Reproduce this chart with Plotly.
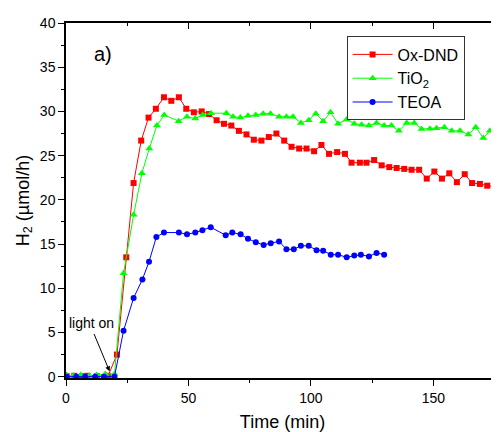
import plotly.graph_objects as go

# Ox-DND (red squares)
ox_x = [0.3, 3.4, 6.5, 8.8, 12.6, 17.2, 20.8, 24.6, 27.6, 30.7, 33.7, 36.7, 40.0, 43.0,
        46.1, 49.1, 52.2, 55.4, 58.4, 61.5, 64.5, 67.5, 70.6, 73.7, 76.7, 79.8, 82.8,
        85.9, 89.1, 92.1, 95.2, 98.2, 101.3, 104.3, 107.4, 110.7, 113.9, 116.6, 120.0,
        122.7, 125.8, 128.9, 132.0, 135.0, 138.1, 141.1, 144.2, 147.3, 150.4, 153.5,
        156.5, 159.6, 162.8, 165.8, 169.0, 172.0, 175.2]
ox_y = [0.05, 0.1, 0.05, 0.1, 0.05, 0.1, 2.5, 13.5, 21.9, 26.7, 29.3, 30.3, 31.6, 31.2,
        31.6, 30.3, 29.9, 30.0, 29.7, 29.0, 28.6, 28.4, 27.8, 27.4, 26.8, 26.7, 27.1,
        27.5, 26.7, 26.0, 25.8, 25.8, 25.5, 26.2, 25.2, 25.4, 25.2, 24.2, 24.2,
        24.2, 24.5, 23.9, 23.7, 23.6, 23.5, 23.4, 23.4, 22.4, 23.2, 22.4,
        23.0, 22.0, 22.9, 21.9, 21.8, 21.6, 21.5]

# TiO2 (green triangles)
ti_x = [0.2, 3.0, 6.0, 9.5, 12.5, 16.0, 19.8, 23.5, 27.6, 31.0, 34.0, 37.1, 40.1, 46.0,
        49.4, 52.8, 55.8, 59.2, 65.5, 68.2, 71.2, 74.3, 77.5, 80.5, 83.5, 87.0, 90.0,
        92.7, 95.9, 99.1, 102.0, 105.0, 108.0, 111.1, 114.6, 117.7, 120.7, 123.7,
        126.8, 129.9, 132.9, 135.9, 139.1, 142.2, 145.2, 148.6, 151.3, 154.5, 157.5,
        160.9, 164.3, 167.3, 170.4, 173.1, 176.3]
ti_y = [0.2, 0.1, 0.2, 0.1, 0.2, 0.3, 0.3, 11.7, 18.3, 23.0, 25.8, 28.4, 29.6, 28.9,
        29.4, 29.2, 29.6, 29.8, 29.8, 29.4, 29.3, 29.5, 29.6, 29.75, 29.75, 29.4, 29.4,
        29.4, 28.7, 29.0, 29.75, 28.9, 29.9, 28.6, 29.1, 28.6, 28.5, 28.4,
        28.7, 28.4, 28.4, 27.8, 28.7, 28.7, 28.0, 28.05, 28.1, 28.2, 27.8,
        27.8, 27.4, 28.2, 27.0, 27.8, 27.6]

# TEOA (blue circles)
te_x = [0.3, 4.2, 7.8, 11.9, 15.5, 19.8, 23.5, 27.6, 31.2, 33.9, 36.9, 40.0, 46.1, 49.4,
        52.8, 55.7, 59.1, 65.2, 67.9, 71.3, 74.3, 77.5, 80.7, 83.6, 87.0, 90.0, 93.0,
        95.9, 99.1, 102.3, 105.0, 108.1, 111.1, 114.6, 117.7, 120.4, 123.7, 126.8, 129.9]
te_y = [0.0, 0.0, 0.0, 0.0, 0.0, 0.0, 5.2, 8.9, 11.0, 13.0, 15.8, 16.3, 16.3, 16.1,
        16.3, 16.55, 16.9, 16.0, 16.3, 16.1, 15.6, 15.2, 14.9, 15.1, 15.3, 14.4, 14.4,
        14.8, 14.8, 14.3, 14.25, 13.8, 13.8, 13.5, 13.7, 13.8, 13.6, 14.0, 13.8]

FONT = "Liberation Sans, Arial, sans-serif"

fig = go.Figure()
fig.add_trace(go.Scatter(x=ox_x, y=ox_y, mode="lines+markers", name="Ox-DND",
                         line=dict(color="#ff0000", width=1),
                         marker=dict(symbol="square", size=6, color="#ff0000")))
fig.add_trace(go.Scatter(x=ti_x, y=ti_y, mode="lines+markers", name="TiO<sub>2</sub>",
                         line=dict(color="#00ff00", width=1),
                         marker=dict(symbol="triangle-up", size=7, color="#00ff00")))
fig.add_trace(go.Scatter(x=te_x, y=te_y, mode="lines+markers", name="TEOA",
                         line=dict(color="#0000ff", width=1),
                         marker=dict(symbol="circle", size=6, color="#0000ff")))
# dummy trace so the top axis gets drawn
fig.add_trace(go.Scatter(x=[0], y=[0], xaxis="x2", mode="markers",
                         marker=dict(opacity=0), showlegend=False, hoverinfo="skip"))

# page body has an 8px margin, so the figure is sized to end at the window edge
xr = [0, 176.8]
fig.update_layout(
    width=491, height=424,
    margin=dict(l=58, r=0, t=15, b=54),
    paper_bgcolor="white", plot_bgcolor="white",
    font=dict(family=FONT, size=14, color="black"),
    showlegend=True,
    legend=dict(x=0.648, y=0.962, xanchor="left", yanchor="top",
                bordercolor="#333333", borderwidth=1, bgcolor="white",
                font=dict(size=16), itemwidth=40, tracegroupgap=0),
    xaxis=dict(range=xr, showgrid=False, zeroline=False, showline=True,
               linecolor="black", linewidth=1.5, ticks="outside", ticklen=6,
               tickwidth=1, tickcolor="black", dtick=50, tick0=0, automargin=False,
               minor=dict(ticks="outside", ticklen=3, dtick=25, tickcolor="black"),
               title=dict(text="Time (min)", font=dict(size=18), standoff=16)),
    xaxis2=dict(range=xr, overlaying="x", side="top", showgrid=False, zeroline=False,
                showline=True, linecolor="black", linewidth=1.5, ticks="inside",
                ticklen=6, tickcolor="black", dtick=50, tick0=0, showticklabels=False,
                minor=dict(ticks="inside", ticklen=3, dtick=25, tickcolor="black")),
    yaxis=dict(range=[-0.15, 40], showgrid=False, zeroline=False, showline=True,
               linecolor="black", linewidth=1.5, ticks="outside", ticklen=6,
               tickwidth=1, tickcolor="black", dtick=5, tick0=0, automargin=False,
               minor=dict(ticks="outside", ticklen=3, dtick=2.5, tickcolor="black"),
               title=dict(text="H<sub>2</sub> (\u00b5mol/h)", font=dict(size=18), standoff=6)),
)

fig.add_annotation(x=15.3, y=36.5, text="a)", showarrow=False,
                   font=dict(size=20, color="black"))
fig.add_annotation(x=10.4, y=6.1, text="light on", showarrow=False,
                   font=dict(size=14, color="black"))
fig.add_annotation(x=17.8, y=0.6, ax=11.2, ay=5.0, axref="x", ayref="y", text="",
                   showarrow=True, arrowhead=2, arrowsize=1, arrowwidth=1,
                   arrowcolor="black")

fig.write_html("out.html")
